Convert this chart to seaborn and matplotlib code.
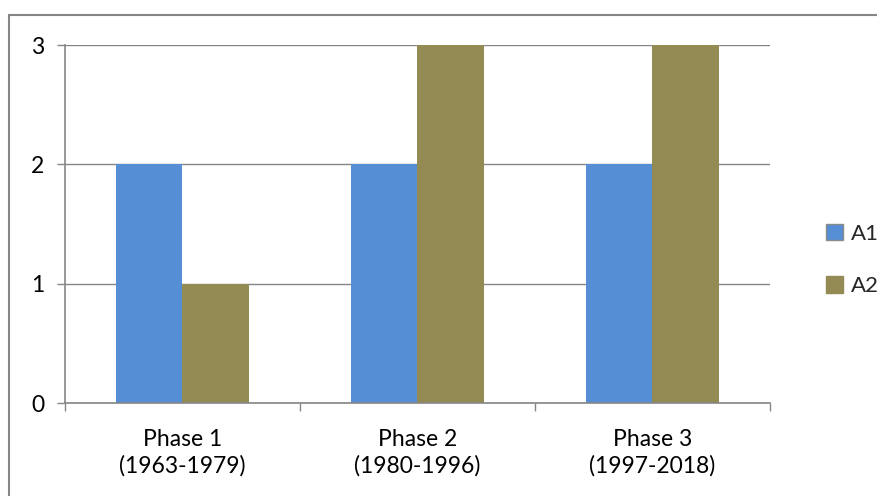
import matplotlib
matplotlib.use("Agg")
import matplotlib.pyplot as plt
import seaborn as sns
import pandas as pd
from matplotlib.patches import Rectangle, Patch

categories = ["Phase 1\n(1963-1979)", "Phase 2\n(1980-1996)", "Phase 3\n(1997-2018)"]
series_names = ["A1", "A2"]
a1_values = [2, 2, 2]
a2_values = [1, 3, 3]
y_ticks = [0, 1, 2, 3]

df = pd.DataFrame({
    "category": categories * 2,
    "series": [series_names[0]] * 3 + [series_names[1]] * 3,
    "value": a1_values + a2_values,
})

sns.set_theme(style="white")
plt.rcParams["font.family"] = ["Lato", "DejaVu Sans"]

W, H = 878, 496
fig = plt.figure(figsize=(W / 100, H / 100), dpi=100)
ax = fig.add_axes([65 / W, 1 - 403 / H, (770 - 65) / W, (403 - 45) / H])

colors = ["#558ED5", "#948A54"]
sns.barplot(data=df, x="category", y="value", hue="series", palette=colors,
            width=0.57, saturation=1, ax=ax, legend=False, linewidth=0)

FS = 16.5
ax.set_ylim(0, 3)
ax.set_xlim(-0.5, 2.5)
ax.set_yticks(y_ticks)
ax.set_yticklabels([str(t) for t in y_ticks], fontsize=FS, color="#000000")
ax.tick_params(axis="x", labelsize=FS, colors="#000000", pad=18.5)
for lbl in ax.get_xticklabels():
    lbl.set_linespacing(1.3)
ax.set_xlabel("")
ax.set_ylabel("")

grid_col = "#868686"
ax.yaxis.grid(True, color=grid_col, linewidth=1)
ax.set_axisbelow(True)
for s in ["top", "right"]:
    ax.spines[s].set_visible(False)
for s in ["left", "bottom"]:
    ax.spines[s].set_color(grid_col)
    ax.spines[s].set_linewidth(1.2)

ax.tick_params(axis="y", which="major", direction="out", length=6, width=1,
               color=grid_col, left=True, pad=9)
ax.set_xticks([0, 1, 2])
ax.tick_params(axis="x", which="major", length=0)
ax.set_xticks([-0.5, 0.5, 1.5, 2.5], minor=True)
ax.tick_params(axis="x", which="minor", direction="out", length=6, width=1,
               color=grid_col, bottom=True)

handles = [Patch(facecolor=colors[0], edgecolor="#8A8A8A", linewidth=1),
           Patch(facecolor=colors[1], edgecolor=colors[1])]
fig.legend(handles, series_names, loc="center left",
           bbox_to_anchor=(806 / W, 1 - 260 / H), frameon=False, fontsize=FS - 0.5,
           handlelength=0.75, handleheight=0.75, handletextpad=0.35,
           labelspacing=1.45)

# outer border (right and bottom edges lie outside the image)
fig.patches.append(Rectangle((9.5 / W, -0.05), 1.2, 1 - 15 / H + 0.05,
                             transform=fig.transFigure, fill=False,
                             edgecolor="#868686", linewidth=1.5))

fig.savefig("out.png", dpi=100)
